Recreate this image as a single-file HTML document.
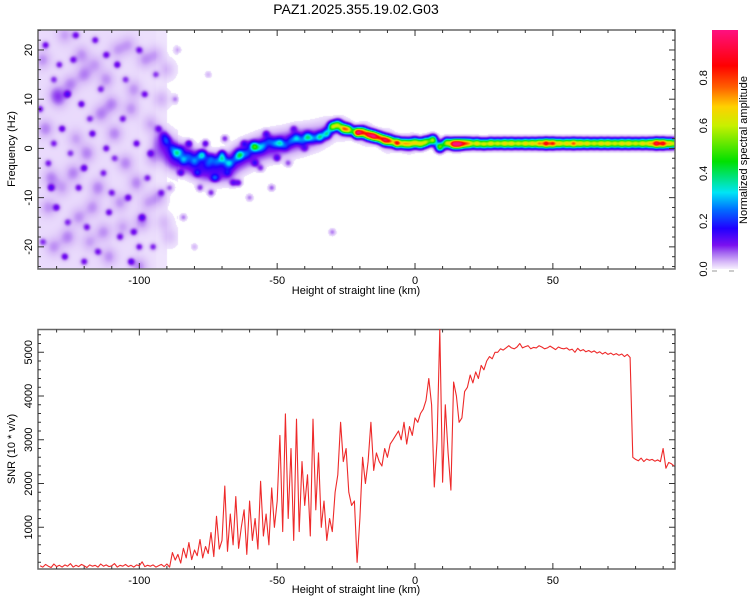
<!DOCTYPE html>
<html><head><meta charset="utf-8">
<style>
html,body{margin:0;padding:0;background:#fff;}
#wrap{position:relative;width:750px;height:600px;overflow:hidden;font-family:"Liberation Sans",sans-serif;}
#spec{position:absolute;left:38px;top:30px;}
#ov{position:absolute;left:0;top:0;}
</style></head>
<body>
<div id="wrap">
<canvas id="spec" width="637" height="239"></canvas>
<svg id="ov" width="750" height="600" xmlns="http://www.w3.org/2000/svg">
<defs>
<linearGradient id="cbg" x1="0" y1="1" x2="0" y2="0">
<stop offset="0" stop-color="#f6f0fe"/><stop offset="0.03" stop-color="#d6b8f8"/>
<stop offset="0.07" stop-color="#a060f0"/><stop offset="0.1" stop-color="#7a10f0"/>
<stop offset="0.17" stop-color="#2000ff"/><stop offset="0.25" stop-color="#0070ff"/>
<stop offset="0.32" stop-color="#00e5f5"/><stop offset="0.45" stop-color="#00e000"/>
<stop offset="0.6" stop-color="#c8f000"/><stop offset="0.68" stop-color="#ffd000"/>
<stop offset="0.76" stop-color="#ff6000"/><stop offset="0.85" stop-color="#ff0000"/>
<stop offset="1" stop-color="#ff1080"/>
</linearGradient>
</defs>
<text x="356" y="14" font-size="14" text-anchor="middle" fill="#000">PAZ1.2025.355.19.02.G03</text>
<g id="top-axes"></g>
<g id="bot-axes"></g>
<path id="snr-line" fill="none" stroke="#ee2a2a" stroke-width="1.1" stroke-linejoin="round"></path>
<rect x="712" y="30" width="26" height="239" fill="url(#cbg)"/>
<g id="cb-axis"></g>
<text transform="translate(747,150) rotate(-90)" font-size="11" text-anchor="middle">Normalized spectral amplitude</text>
<text transform="translate(15,149) rotate(-90)" font-size="11" text-anchor="middle">Frequency (Hz)</text>
<text x="356" y="294" font-size="11" text-anchor="middle">Height of straight line (km)</text>
<text transform="translate(15,449) rotate(-90)" font-size="11" text-anchor="middle">SNR (10 * v/v)</text>
<text x="356" y="593" font-size="11" text-anchor="middle">Height of straight line (km)</text>
</svg>
</div>
<script>
// ---- data: SNR series (1 km step starting at snrStartKm) ----
const snrStartKm = -136;
const snrStepKm = 1;
const snrValues = [
120,90,150,110,80,160,100,130,90,140,
110,170,90,130,100,150,120,80,140,110,
130,90,160,110,140,100,120,170,90,130,
110,150,100,130,90,140,120,210,100,130,
110,140,90,120,150,100,160,90,420,250,
380,180,520,300,650,260,480,350,720,300,
560,400,880,330,1250,500,700,1940,450,1300,
600,1700,520,1000,1400,380,1600,700,1200,500,
2050,800,1300,600,1900,1000,1600,3100,900,3590,
1200,2800,700,3470,900,2500,1500,2200,800,3470,
1400,2700,1000,1600,700,1200,900,1800,2200,3400,
2500,2800,1800,1500,1600,200,1200,2600,2000,2500,
3400,2300,2700,2500,2400,2800,2600,2900,3000,3100,
3200,3000,3400,2900,3300,3100,3500,3400,3600,3700,
3900,4400,3800,1920,3000,5600,2030,3800,2700,1850,
4320,4000,3400,3500,4100,4200,4480,4300,4550,4400,
4700,4600,4800,4900,4850,5000,5000,5080,5050,5100,
5150,5100,5080,5120,5200,5100,5130,5150,5080,5110,
5100,5150,5120,5080,5100,5140,5100,5060,5120,5090,
5080,5100,5050,5070,5000,5090,5030,5060,5010,5040,
5000,5030,4980,5010,4960,5000,4950,4980,4940,4970,
4930,4960,4900,4950,4880,
2600,2550,2520,2580,2500,2560,2530,2550,2510,2540,
2500,2800,2350,2480,2450,2400];

// ---- data: spectrogram ridge ----
const ridgeKm = [-91,-90,-88,-86.5,-85,-84,-82,-80,-78,-77,-75,-74,-72,-70,-68,-67,-65,-63.5,-61,-59,-58,-56,-55,-53,-51,-49,-47,-45,-43,-41,-39,-37,-34.5,-32,-30,-28,-26,-24,-21,-19,-17,-15,-13,-11,-9,-6.5,-4,-2,0,2,4,6.5,9,11.5,14,16,18,20,22.5,25,27.5,30,32.5,35,37.5,40,42.5,45,47.5,50,52.5,55,57.5,60,62.5,65,67.5,70,72.5,75,77.5,80,82.5,85,87.5,90,92.5,95];
const ridgeFreq = [2.5,1.5,0,-1,-0.5,-2.3,-1.5,-2.5,-1.5,-1.3,-3,-2,-2.7,-2,-3,-3,-2,-1.3,-1,0.5,0.3,0,0.7,1.5,1,1.1,0.5,1.5,2.1,1.5,2.3,2,2.3,3,4.4,4.8,4,3.8,3.2,3.3,2.8,2.5,2.2,1.7,1.5,1.1,1,0.9,1.2,0.9,1.3,1.7,0.3,1.1,0.9,0.9,1,1,1,0.9,1,1,1,1,1,1,1,1,1,1,1,1,1,1,1,1,1,1,1,1,1,1,1,1,1,1,1,1];
const ridgeAmp = [0.08,0.12,0.1,0.2,0.1,0.15,0.08,0.12,0.1,0.2,0.08,0.12,0.1,0.25,0.1,0.12,0.1,0.28,0.1,0.12,0.3,0.1,0.12,0.1,0.12,0.22,0.1,0.12,0.2,0.12,0.28,0.15,0.3,0.3,0.5,0.45,0.6,0.55,0.85,0.6,0.7,0.8,0.6,0.75,0.6,0.8,0.55,0.5,0.5,0.5,0.5,0.55,0.5,0.55,0.85,0.8,0.6,0.55,0.6,0.55,0.6,0.55,0.6,0.6,0.55,0.6,0.6,0.65,0.8,0.75,0.6,0.6,0.7,0.6,0.6,0.55,0.6,0.6,0.55,0.6,0.6,0.55,0.6,0.6,0.85,0.8,0.6,0.6];

// ---- data: diffuse halo around the noisy ridge ----
const haloKm = [-92,-88,-84,-80,-76,-72,-68,-64,-60,-56,-52,-48,-44,-40,-36,-32,-26,-18,-10,-2];
const haloFreq = [1,-1,-2,-3,-4,-4,-4,-2,-1,0,0.5,1,1.5,2,2.5,3.5,4,3,1.5,1];
const haloAmp = [0.07,0.09,0.1,0.11,0.1,0.1,0.1,0.09,0.09,0.08,0.08,0.07,0.07,0.06,0.05,0.04,0.03,0.03,0.03,0.02];

// ---- data: dark noise blobs ----
const blobKm = [-134,-131,-128,-133,-130,-135,-127,-124,-121,-125,-122,-119,-116,-114,-117,-113,-111,-115,-108,-106,-109,-104,-107,-103,-100,-98,-101,-97,-99,-95,-94,-93,-92,-136,-132,-129,-126,-123,-120,-118,-112,-110,-105,-102,-96,-120,-131,-112,-100,-126,-89,-87,-84,-86,-80,-75,-60,-30,-52,-64,-72,-78,-68,-56,-46,-82,-79,-76,-73,-70,-66,-62,-58,-54,-50,-44,-40,-85,-74,-69];
const blobFreq = [21,14,4,-3,-12,-19,-22,18,9,-1,-8,-16,22,12,3,-5,-13,-21,17,6,-2,-10,-18,-23,20,11,1,-6,-14,-20,15,4,-9,8,-8,17,-15,23,-4,6,19,-9,14,-17,-1,-23,1,0,-20,11,-8,10,-14,20,-20,15,-10,-17,-8,-7,-6,-8,-5,-4,-3,1,-5,1,-6,-1,-7,1,-3,3,-2,4,0,-5,-9,2];
const blobAmp = [0.09,0.07,0.1,0.08,0.09,0.07,0.1,0.08,0.1,0.07,0.09,0.08,0.09,0.07,0.1,0.08,0.09,0.08,0.1,0.08,0.07,0.09,0.08,0.1,0.08,0.09,0.1,0.08,0.09,0.08,0.07,0.08,0.07,0.09,0.1,0.08,0.07,0.09,0.1,0.07,0.09,0.08,0.07,0.09,0.08,0.09,0.08,0.09,0.09,0.1,0.06,0.05,0.06,0.04,0.04,0.04,0.06,0.06,0.07,0.1,0.08,0.08,0.07,0.08,0.07,0.12,0.1,0.12,0.1,0.12,0.1,0.1,0.1,0.1,0.1,0.08,0.08,0.1,0.09,0.09];

// ---- data: light lavender mottling ----
const mottleKm = [-135,-132,-129,-126,-123,-120,-117,-114,-111,-108,-105,-102,-99,-96,-93,-90,-134,-131,-128,-125,-122,-119,-116,-113,-110,-107,-104,-101,-98,-95,-92,-89,-133,-130,-127,-124,-121,-118,-115,-112,-109,-106,-103,-100,-97,-94,-91,-88];
const mottleFreq = [18,-6,10,-18,2,15,-12,7,-22,20,-3,12,-15,5,-10,16,4,-20,-8,13,-14,-1,17,-17,9,-11,21,-7,18,-2,10,-18,-12,11,23,-5,19,-19,-8,14,3,-16,8,-24,-11,19,-15,-3];
const mottleAmp = [0.035,0.04,0.035,0.04,0.03,0.04,0.035,0.04,0.035,0.03,0.04,0.035,0.04,0.03,0.035,0.03,0.04,0.035,0.03,0.04,0.035,0.04,0.03,0.035,0.04,0.035,0.03,0.04,0.035,0.03,0.03,0.025,0.035,0.04,0.03,0.04,0.035,0.03,0.04,0.035,0.04,0.03,0.035,0.04,0.03,0.03,0.025,0.02];

// ---- data: noise floor by km band ----
const floorEdgesKm = [-140,-110,-100,-94,-90,-86];
const floorAmp = [0.018,0.017,0.015,0.012,0.008];

// ---- tick data ----
const xTicks = [-100,-50,0,50];
const freqTicks = [-20,-10,0,10,20];
const snrTicks = [1000,2000,3000,4000,5000];
const cbTicks = [0.0,0.2,0.4,0.6,0.8];

// ---- axis functions ----
const PL=38, PR=675, TT=30, TB=269, BT=329.5, BB=569;
const KM0=-136.75, KM1=94.3;
function xs(km){return PL+(km-KM0)/(KM1-KM0)*(PR-PL);}
function kmInv(px){return KM0+px/(PR-PL)*(KM1-KM0);}
const F0=-24.5,F1=24.06;
function yf(f){return TB-(f-F0)/(F1-F0)*(TB-TT);}
function ysnr(v){return 571-v*0.04375;}
function ycb(v){return 269-v*239;}

const NS='http://www.w3.org/2000/svg';
function mk(tag,attrs,parent){const e=document.createElementNS(NS,tag);for(const k in attrs)e.setAttribute(k,attrs[k]);parent.appendChild(e);return e;}

// ---- spectrogram field ----
(function(){
 const cv=document.getElementById('spec');const ctx=cv.getContext('2d');
 const W=cv.width,H=cv.height;const field=new Float32Array(W*H);
 for(let px=0;px<W;px++){const km=kmInv(px+0.5);
   for(let b=0;b<floorAmp.length;b++){if(km>=floorEdgesKm[b]&&km<floorEdgesKm[b+1]){for(let py=0;py<H;py++)field[py*W+px]+=floorAmp[b];}}}
 function addG(km,f,a,sx,sy){const cx=xs(km)-PL,cy=yf(f)-TT;
   const x0=Math.max(0,Math.floor(cx-3*sx)),x1=Math.min(W-1,Math.ceil(cx+3*sx));
   const y0=Math.max(0,Math.floor(cy-3*sy)),y1=Math.min(H-1,Math.ceil(cy+3*sy));
   for(let y=y0;y<=y1;y++)for(let x=x0;x<=x1;x++){const dx=(x+0.5-cx)/sx,dy=(y+0.5-cy)/sy;field[y*W+x]+=a*Math.exp(-(dx*dx+dy*dy));}}
 for(let i=0;i<mottleKm.length;i++)addG(mottleKm[i],mottleFreq[i],mottleAmp[i],8,9);
 for(let i=0;i<haloKm.length;i++)addG(haloKm[i],haloFreq[i],haloAmp[i],9,13);
 for(let i=0;i<blobKm.length;i++)addG(blobKm[i],blobFreq[i],blobAmp[i],3.5,3.5);
 for(let i=0;i<ridgeKm.length;i++)addG(ridgeKm[i],ridgeFreq[i],ridgeAmp[i],4.2,4.6);
 const stops=[[0.012,[239,228,253]],[0.04,[214,184,248]],[0.07,[160,96,240]],[0.1,[122,16,240]],[0.17,[32,0,255]],[0.25,[0,112,255]],[0.32,[0,229,245]],[0.45,[0,224,0]],[0.6,[200,240,0]],[0.68,[255,208,0]],[0.76,[255,96,0]],[0.85,[255,0,0]],[1.0,[255,16,128]]];
 function cmap(v){if(v<stops[0][0])return null;if(v>=1)return stops[stops.length-1][1];
   for(let i=0;i<stops.length-1;i++){if(v<stops[i+1][0]){const t=(v-stops[i][0])/(stops[i+1][0]-stops[i][0]);const a=stops[i][1],b=stops[i+1][1];return [a[0]+(b[0]-a[0])*t,a[1]+(b[1]-a[1])*t,a[2]+(b[2]-a[2])*t];}}return stops[stops.length-1][1];}
 const img=ctx.createImageData(W,H);
 for(let i=0;i<W*H;i++){const c=cmap(field[i]);const o=i*4;if(c){img.data[o]=c[0];img.data[o+1]=c[1];img.data[o+2]=c[2];}else{img.data[o]=255;img.data[o+1]=255;img.data[o+2]=255;}img.data[o+3]=255;}
 ctx.putImageData(img,0,0);
})();

// ---- axes ----
function frame(g,top,bot,name){
 const r=mk('rect',{x:PL,y:top,width:PR-PL,height:bot-top,fill:'none',stroke:'#666',"stroke-width":1.5},g);
 
 
 for(let km=-130;km<=90;km+=10){const major=xTicks.indexOf(km)>=0;const L=major?6:3;const x=xs(km);
   mk('line',{x1:x,y1:bot,x2:x,y2:bot-L,stroke:'#333'},g);mk('line',{x1:x,y1:top,x2:x,y2:top+L,stroke:'#333'},g);}
 xTicks.forEach(k=>{const t=mk('text',{x:xs(k),y:bot+15,"font-size":11,"text-anchor":"middle"},g);t.textContent=k;
   
   });
}
const tg=document.getElementById('top-axes');
frame(tg,TT,TB,'spectrogram');
for(let f=-24;f<=24;f+=2){const major=f%10===0;const L=major?6:3;const y=yf(f);
 mk('line',{x1:PL,y1:y,x2:PL+L,y2:y,stroke:'#333'},tg);mk('line',{x1:PR,y1:y,x2:PR-L,y2:y,stroke:'#333'},tg);}
freqTicks.forEach(f=>{const t=mk('text',{transform:`translate(32,${yf(f)}) rotate(-90)`,"font-size":11,"text-anchor":"middle"},tg);t.textContent=f;
 
 });

const bg=document.getElementById('bot-axes');
frame(bg,BT,BB,'snr');
for(let v=200;v<=5400;v+=200){const major=v%1000===0;const L=major?6:3;const y=ysnr(v);
 mk('line',{x1:PL,y1:y,x2:PL+L,y2:y,stroke:'#333'},bg);mk('line',{x1:PR,y1:y,x2:PR-L,y2:y,stroke:'#333'},bg);}
snrTicks.forEach(v=>{const t=mk('text',{transform:`translate(32,${ysnr(v)}) rotate(-90)`,"font-size":11,"text-anchor":"middle"},bg);t.textContent=v;
 
 });

// ---- SNR line ----
let d='';
snrValues.forEach((v,i)=>{const km=snrStartKm+i*snrStepKm;const y=Math.max(BT,Math.min(BB,ysnr(v)));d+=(i?'L':'M')+xs(km).toFixed(1)+','+y.toFixed(1);});
document.getElementById('snr-line').setAttribute('d',d);

// ---- colorbar axis ----
const cg=document.getElementById('cb-axis');
cbTicks.forEach(v=>{const t=mk('text',{transform:`translate(707,${ycb(v)}) rotate(-90)`,"font-size":11,"text-anchor":"middle"},cg);t.textContent=v.toFixed(1);
 
 });
mk('line',{x1:712,y1:271,x2:717,y2:271,stroke:'#999'},cg);
mk('line',{x1:729,y1:271,x2:734,y2:271,stroke:'#999'},cg);
</script>
</body></html>
